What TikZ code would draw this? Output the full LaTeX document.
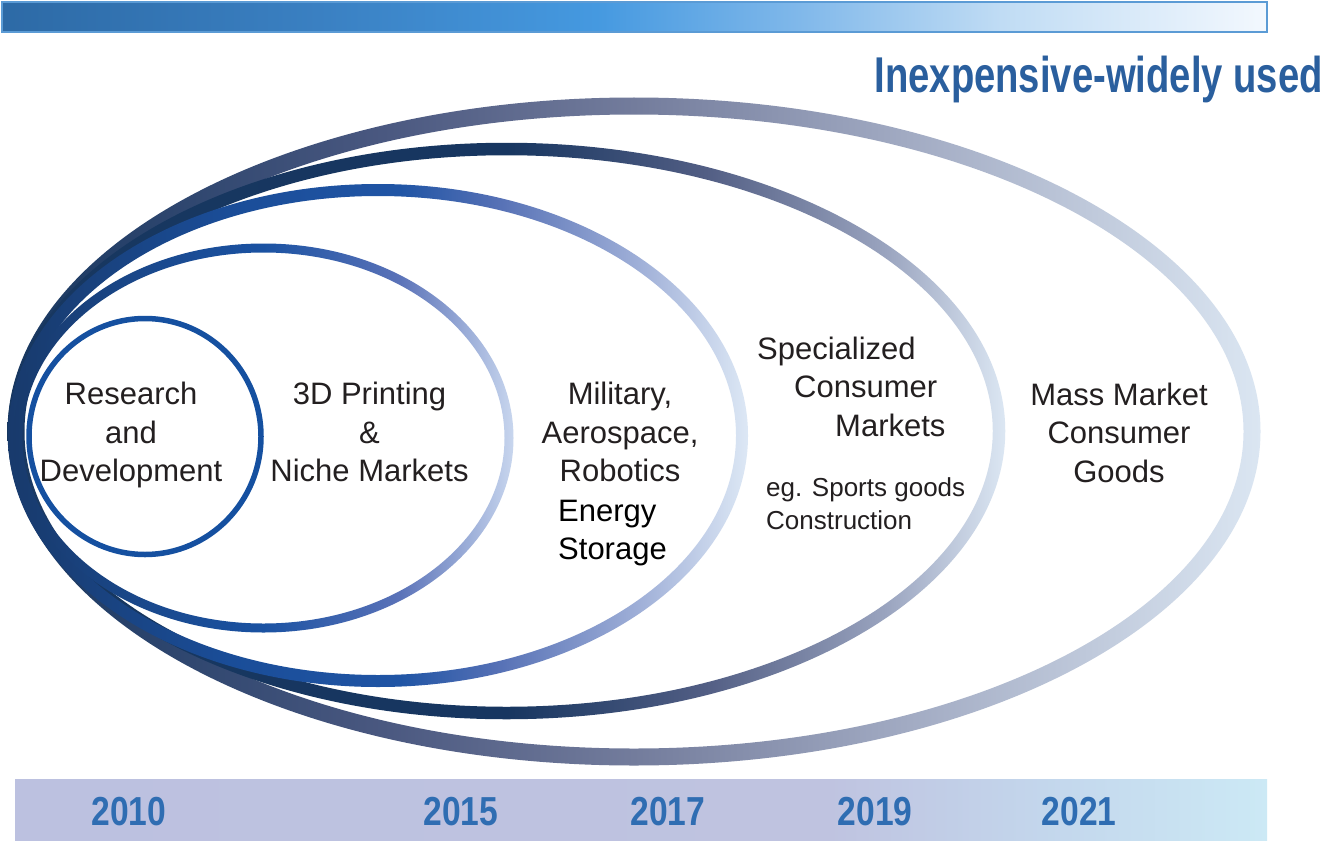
\documentclass[tikz,border=0pt]{standalone}
\usepackage{fontspec}
\setmainfont{Liberation Sans}
\newfontfamily\headfont[FakeStretch=0.76]{Liberation Sans}
\newfontfamily\yearfont[FakeStretch=0.83]{Liberation Sans}
\usepackage{xcolor}
\usepackage{tikz}
\definecolor{ink}{HTML}{231F20}
\definecolor{headblue}{HTML}{2A5F9E}
\definecolor{yearblue}{HTML}{2F6DB2}
\definecolor{rdblue}{HTML}{1550A0}
\definecolor{barline}{HTML}{5B9BD5}
\definecolor{tbA}{HTML}{2D6AA6}
\definecolor{tbB}{HTML}{3A80C2}
\definecolor{tbC}{HTML}{4599E0}
\definecolor{tbD}{HTML}{80B8EA}
\definecolor{tbE}{HTML}{C0DCF4}
\definecolor{tbF}{HTML}{F3F8FE}
\definecolor{bbA}{HTML}{BCC1E0}
\definecolor{bbB}{HTML}{BFC3E0}
\definecolor{bbC}{HTML}{C3D6EC}
\definecolor{bbD}{HTML}{CCE9F5}
\definecolor{navy}{HTML}{173760}
\definecolor{navyb}{HTML}{183A6C}
\definecolor{rfA}{HTML}{4A5880}
\definecolor{rfB}{HTML}{737C9C}
\definecolor{rfC}{HTML}{A2ABC3}
\definecolor{rfD}{HTML}{DBE6F2}
\definecolor{rsA}{HTML}{173660}
\definecolor{rsB}{HTML}{525E84}
\definecolor{rsC}{HTML}{9AA4BF}
\definecolor{rsD}{HTML}{DCE7F3}
\definecolor{rmA}{HTML}{1A4D98}
\definecolor{rmB}{HTML}{2055A5}
\definecolor{rmC}{HTML}{5570B5}
\definecolor{rmD}{HTML}{A0B0D8}
\definecolor{rmE}{HTML}{DDE8F5}
\definecolor{rnA}{HTML}{1A4A90}
\definecolor{rnB}{HTML}{1A52A2}
\definecolor{rnC}{HTML}{5A72B8}
\definecolor{rnD}{HTML}{C8D6EE}
\pgfdeclarehorizontalshading{topbar}{100bp}{color(0bp)=(tbA); color(25bp)=(tbA); color(37.5bp)=(tbB);
  color(48.5bp)=(tbC); color(56.5bp)=(tbD); color(64.5bp)=(tbE); color(75bp)=(tbF); color(100bp)=(tbF)}
\pgfdeclarehorizontalshading{bottombar}{100bp}{color(0bp)=(bbA); color(25bp)=(bbA); color(57.5bp)=(bbB);
  color(66bp)=(bbC); color(75bp)=(bbD); color(100bp)=(bbD)}
\pgfdeclarehorizontalshading{ringmass}{100bp}{color(0bp)=(navy); color(25bp)=(navy); color(40bp)=(rfA);
  color(50bp)=(rfB); color(61bp)=(rfC); color(75bp)=(rfD); color(100bp)=(rfD)}
\pgfdeclarehorizontalshading{ringspec}{100bp}{color(0bp)=(navy); color(25bp)=(navy); color(50bp)=(rsA);
  color(60bp)=(rsB); color(69bp)=(rsC); color(75bp)=(rsD); color(100bp)=(rsD)}
\pgfdeclarehorizontalshading{ringmil}{100bp}{color(0bp)=(navyb); color(25bp)=(navyb); color(40bp)=(rmA);
  color(51.5bp)=(rmB); color(58bp)=(rmC); color(67.7bp)=(rmD); color(75bp)=(rmE); color(100bp)=(rmE)}
\pgfdeclarehorizontalshading{ringniche}{100bp}{color(0bp)=(navyb); color(25bp)=(navyb); color(40bp)=(rnA);
  color(50bp)=(rnB); color(63.5bp)=(rnC); color(75bp)=(rnD); color(100bp)=(rnD)}
\tikzset{
  lbl/.style={font=\fontsize{31}{38.5}\selectfont, text=ink, align=center, inner sep=0pt},
  small/.style={font=\fontsize{26}{33}\selectfont, text=ink, align=left, inner sep=0pt},
  yr/.style={font=\yearfont\bfseries\fontsize{40.5}{40.5}\selectfont, text=yearblue, inner sep=0pt},
  ring/.style={even odd rule}
}

\begin{document}
\begin{tikzpicture}[x=1pt, y=-1pt]
  \useasboundingbox (0,0) rectangle (1324,840);
  \fill[white] (0,0) rectangle (1324,840);

  % bars
  \shadedraw[shading=topbar, draw=barline, line width=1.5pt] (2,2) rectangle (1267,32);
  \shade[shading=bottombar] (15,779) rectangle (1267,840);

  \node[font=\headfont\bfseries\fontsize{50.3}{50.3}\selectfont, text=headblue, anchor=base east, inner sep=0pt]
    (head) at (1323,93) {Inexpensive-widely used};

  % rings, outer first
  \coordinate (cmass) at (634,431.5);
  \coordinate (cspec) at (506.5,431);
  \coordinate (cmil) at (378,435.5);
  \coordinate (cniche) at (263.5,438);
  \coordinate (crd) at (145,436.5);
  \shade[ring, shading=ringmass] (cmass) ellipse [x radius=626.5, y radius=334]
    (cmass) ellipse [x radius=609.5, y radius=317];
  \shade[ring, shading=ringspec] (cspec) ellipse [x radius=498.75, y radius=288.25]
    (cspec) ellipse [x radius=486.25, y radius=275.75];
  \shade[ring, shading=ringmil] (cmil) ellipse [x radius=370, y radius=251.5]
    (cmil) ellipse [x radius=358, y radius=239.5];
  \shade[ring, shading=ringniche] (cniche) ellipse [x radius=250, y radius=194.5]
    (cniche) ellipse [x radius=241, y radius=185.5];
  \draw[rdblue, line width=5.5pt] (crd) ellipse [x radius=116, y radius=118];

  % labels
  \node[lbl] (rd) at (131,435) {Research\\and\\Development};
  \node[lbl] (niche) at (369.5,432) {3D Printing\\\&\\Niche Markets};
  \node[lbl] (mil) at (620,432) {Military,\\Aerospace,\\Robotics};
  \node[lbl, align=left, anchor=west, text=black] (energy) at (558,533) {Energy\\Storage};
  \node[lbl, align=left, anchor=west] (spec) at (757,386.5)
    {Specialized\\\hspace*{37pt}Consumer\\\hspace*{78pt}Markets};
  \node[small, anchor=west] (eg) at (766,504) {eg. Sports goods\\Construction};
  \node[lbl] (mass) at (1119,432.5) {Mass Market\\Consumer\\Goods};

  % years
  \node[yr] (y2010) at (129,812) {2010};
  \node[yr] (y2015) at (461,812) {2015};
  \node[yr] (y2017) at (668,812) {2017};
  \node[yr] (y2019) at (875,812) {2019};
  \node[yr] (y2021) at (1079,812) {2021};
\end{tikzpicture}
\end{document}
